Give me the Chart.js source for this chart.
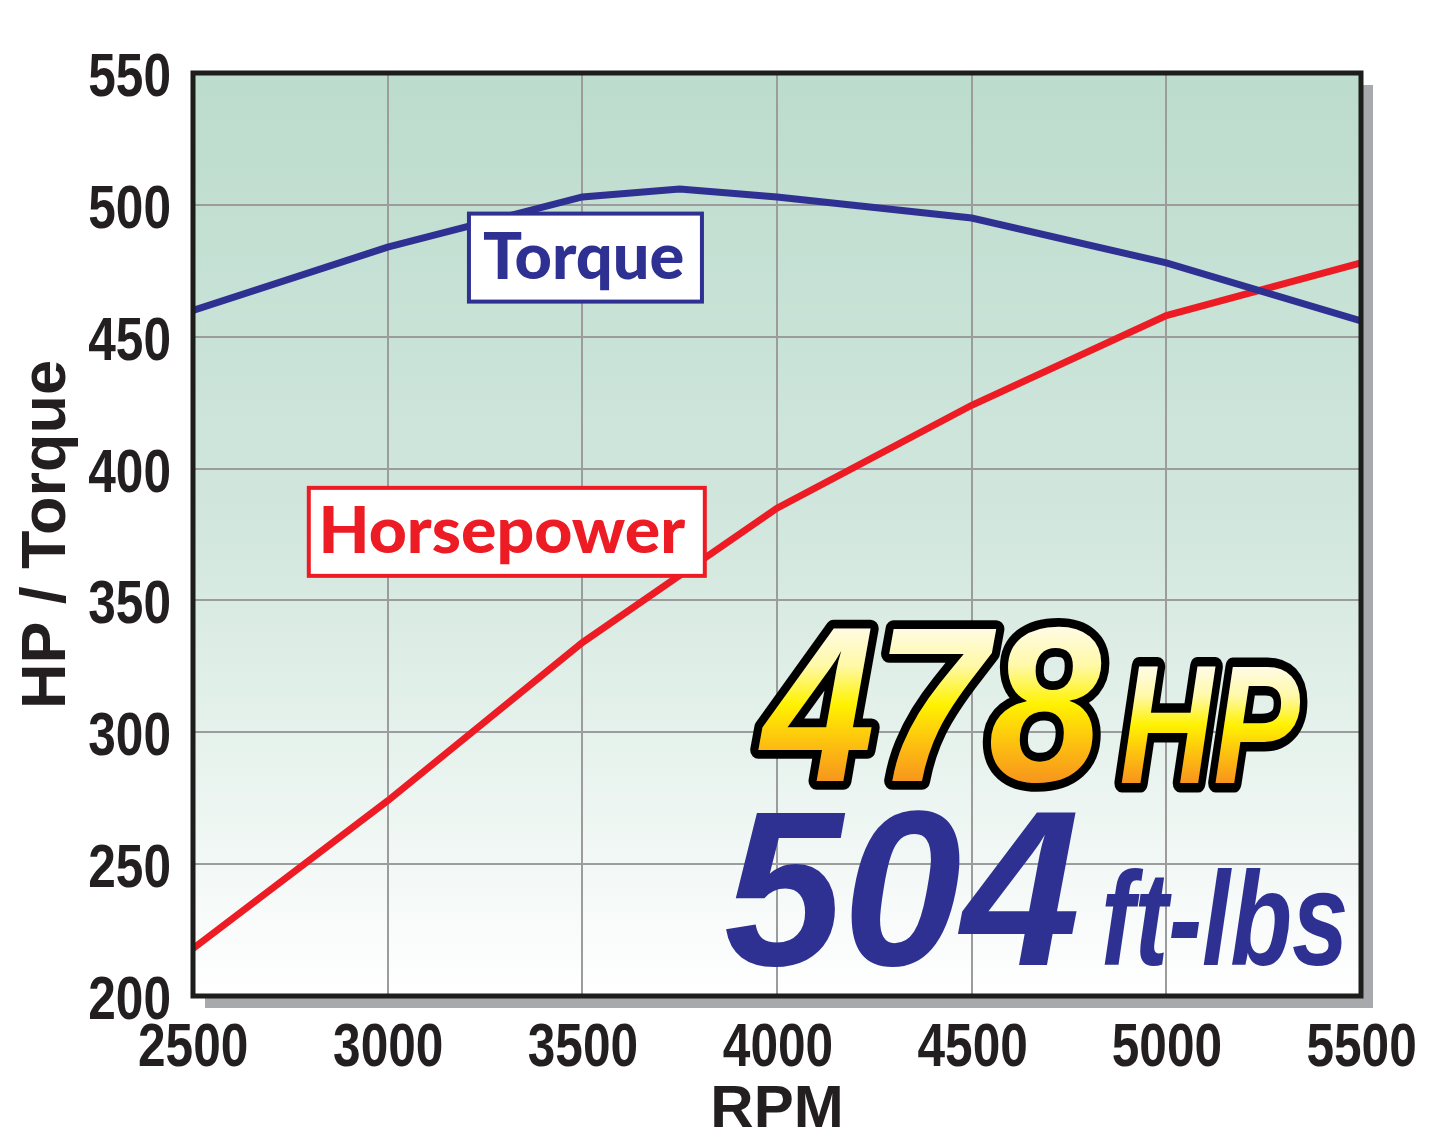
<!DOCTYPE html>
<html>
<head>
<meta charset="utf-8">
<script src="https://cdn.jsdelivr.net/npm/chart.js@4.4.1/dist/chart.umd.min.js"></script>
<style>
  html, body { margin: 0; padding: 0; background: #fff; }
  canvas { display: block; }
</style>
</head>
<body>
<canvas id="dyno" width="1445" height="1148"></canvas>
<script>
// values
const torqueRpm = [2500, 3000, 3500, 3750, 4000, 4500, 5000, 5500];
const torqueValues = [460, 484, 503, 506, 503, 495, 478, 456];
const hpRpm = [2500, 3000, 3500, 4000, 4500, 5000, 5500];
const hpValues = [218, 274, 334, 385, 424, 458, 478];
const rpmTicks = [2500, 3000, 3500, 4000, 4500, 5000, 5500];
const valueTicks = [200, 250, 300, 350, 400, 450, 500, 550];

const BLUE = '#2e3192';
const RED = '#ed1c24';
const INK = '#231f20';
const NARROW = 0.8; // no condensed face installed, squeeze Liberation Sans instead

// callout boxes anchored in data space
const callouts = [
  { text: 'Torque', rpm: 3508, value: 480, w: 233, h: 88, color: BLUE },
  { text: 'Horsepower', rpm: 3306, value: 376, w: 396, h: 88, color: RED }
];

// scale text so its ink fills a box
function fitInk(ctx, text, font, x0, y0, x1, y1) {
  ctx.font = font;
  ctx.textAlign = 'left';
  ctx.textBaseline = 'alphabetic';
  const m = ctx.measureText(text);
  const w = m.actualBoundingBoxLeft + m.actualBoundingBoxRight;
  const h = m.actualBoundingBoxAscent + m.actualBoundingBoxDescent;
  const sx = (x1 - x0) / w, sy = (y1 - y0) / h;
  ctx.translate(x0, y0);
  ctx.scale(sx, sy);
  return { x: m.actualBoundingBoxLeft, y: m.actualBoundingBoxAscent, h: h, sx: sx, sy: sy };
}

// condensed tick label, align = 'center' or 'right'
function tickText(ctx, text, x, baseline, align) {
  ctx.save();
  ctx.font = 'bold 62px "Liberation Sans"';
  ctx.textAlign = 'left';
  ctx.textBaseline = 'alphabetic';
  const m = ctx.measureText(text);
  const w = (m.actualBoundingBoxLeft + m.actualBoundingBoxRight) * NARROW;
  const left = align === 'right' ? x - w : x - w / 2;
  ctx.translate(left, baseline);
  ctx.scale(NARROW, 1);
  ctx.fillStyle = INK;
  ctx.fillText(text, m.actualBoundingBoxLeft, 0);
  ctx.restore();
}

const decor = {
  id: 'decor',
  beforeDraw(chart) {
    const { ctx, chartArea: a } = chart;
    ctx.save();
    ctx.fillStyle = '#fff';
    ctx.fillRect(0, 0, chart.width, chart.height);
    // drop shadow
    ctx.fillStyle = '#a7a9ac';
    ctx.fillRect(a.left + 12, a.top + 12, a.width, a.height);
    // plot background
    const g = ctx.createLinearGradient(0, a.top, 0, a.bottom);
    g.addColorStop(0, '#bcdccd');
    g.addColorStop(0.5, '#d2e7de');
    g.addColorStop(1, '#ffffff');
    ctx.fillStyle = g;
    ctx.fillRect(a.left, a.top, a.width, a.height);
    ctx.restore();
  },
  afterDatasetsDraw(chart) {
    const { ctx, chartArea: a, scales } = chart;
    ctx.save();
    ctx.strokeStyle = '#1d1d1b';
    ctx.lineWidth = 5;
    ctx.strokeRect(a.left, a.top, a.width, a.height);

    callouts.forEach(c => {
      const cx = scales.x.getPixelForValue(c.rpm);
      const cy = scales.y.getPixelForValue(c.value);
      const l = cx - c.w / 2, t = cy - c.h / 2;
      ctx.fillStyle = '#fff';
      ctx.fillRect(l, t, c.w, c.h);
      ctx.strokeStyle = c.color;
      ctx.lineWidth = 4;
      ctx.strokeRect(l, t, c.w, c.h);
      ctx.save();
      const p = fitInk(ctx, c.text, '900 62px Lato', l + 14, t + 17, l + c.w - 19, t + c.h - 12);
      ctx.fillStyle = c.color;
      ctx.fillText(c.text, p.x, p.y);
      ctx.restore();
    });

    // big yellow "478 HP"
    const yellow = (text, font, x0, y0, x1, y1) => {
      ctx.save();
      const p = fitInk(ctx, text, font, x0, y0, x1, y1);
      const g = ctx.createLinearGradient(0, 0, 0, p.h);
      g.addColorStop(0, '#fffbe6');
      g.addColorStop(0.25, '#fff9a8');
      g.addColorStop(0.5, '#fff200');
      g.addColorStop(0.75, '#fdc010');
      g.addColorStop(1, '#f7941d');
      ctx.lineJoin = 'round';
      ctx.strokeStyle = '#000';
      ctx.lineWidth = 17 / ((p.sx + p.sy) / 2);
      ctx.strokeText(text, p.x, p.y);
      ctx.fillStyle = g;
      ctx.fillText(text, p.x, p.y);
      ctx.restore();
    };
    yellow('478', 'italic bold 220px "Liberation Sans"', 758, 626, 1102, 783);
    yellow('HP', 'italic bold 160px "Liberation Sans"', 1121, 667, 1300, 783);

    // blue "504 ft-lbs"
    const blue = (text, font, x0, y0, x1, y1) => {
      ctx.save();
      const p = fitInk(ctx, text, font, x0, y0, x1, y1);
      ctx.fillStyle = BLUE;
      ctx.fillText(text, p.x, p.y);
      ctx.restore();
    };
    blue('504', 'italic bold 216px "Liberation Sans"', 726, 810, 1077, 967);
    blue('ft-lbs', 'italic bold 130px "Liberation Sans"', 1104, 869, 1345, 967);
    ctx.restore();
  },
  afterDraw(chart) {
    const { ctx, chartArea: a, scales } = chart;
    scales.x.ticks.forEach(t => {
      tickText(ctx, String(t.value), scales.x.getPixelForValue(t.value), a.bottom + 70, 'center');
    });
    scales.y.ticks.forEach(t => {
      tickText(ctx, String(t.value), a.left - 24, scales.y.getPixelForValue(t.value) + 23, 'right');
    });
  }
};

new Chart(document.getElementById('dyno'), {
  type: 'line',
  data: {
    datasets: [
      {
        label: 'Torque',
        data: torqueRpm.map((r, i) => ({ x: r, y: torqueValues[i] })),
        borderColor: BLUE,
        borderWidth: 7,
        pointRadius: 0,
        tension: 0
      },
      {
        label: 'Horsepower',
        data: hpRpm.map((r, i) => ({ x: r, y: hpValues[i] })),
        borderColor: RED,
        borderWidth: 7,
        pointRadius: 0,
        tension: 0
      }
    ]
  },
  options: {
    responsive: false,
    animation: false,
    devicePixelRatio: 1,
    layout: { padding: { left: 0, top: 73, right: 84, bottom: 0 } },
    plugins: { legend: { display: false }, tooltip: { enabled: false } },
    scales: {
      x: {
        type: 'linear',
        min: 2500,
        max: 5500,
        afterBuildTicks: s => { s.ticks = rpmTicks.map(v => ({ value: v })); },
        afterFit: s => { s.height = 152; },
        grid: { color: '#9c9c9c', lineWidth: 2, drawTicks: false },
        border: { display: false },
        ticks: { display: false },
        title: {
          display: true,
          text: 'RPM',
          color: INK,
          font: { family: '"Liberation Sans"', weight: 'bold', size: 60, lineHeight: 1 },
          padding: { top: 0, bottom: 8 }
        }
      },
      y: {
        min: 200,
        max: 550,
        afterBuildTicks: s => { s.ticks = valueTicks.map(v => ({ value: v })); },
        afterFit: s => { s.width = 193; },
        grid: { color: '#9c9c9c', lineWidth: 2, drawTicks: false },
        border: { display: false },
        ticks: { display: false },
        title: {
          display: true,
          text: 'HP / Torque',
          color: INK,
          font: { family: '"Liberation Sans"', weight: 'bold', size: 63, lineHeight: 1 },
          padding: { top: 16, bottom: 0 }
        }
      }
    }
  },
  plugins: [decor]
});
</script>
</body>
</html>
